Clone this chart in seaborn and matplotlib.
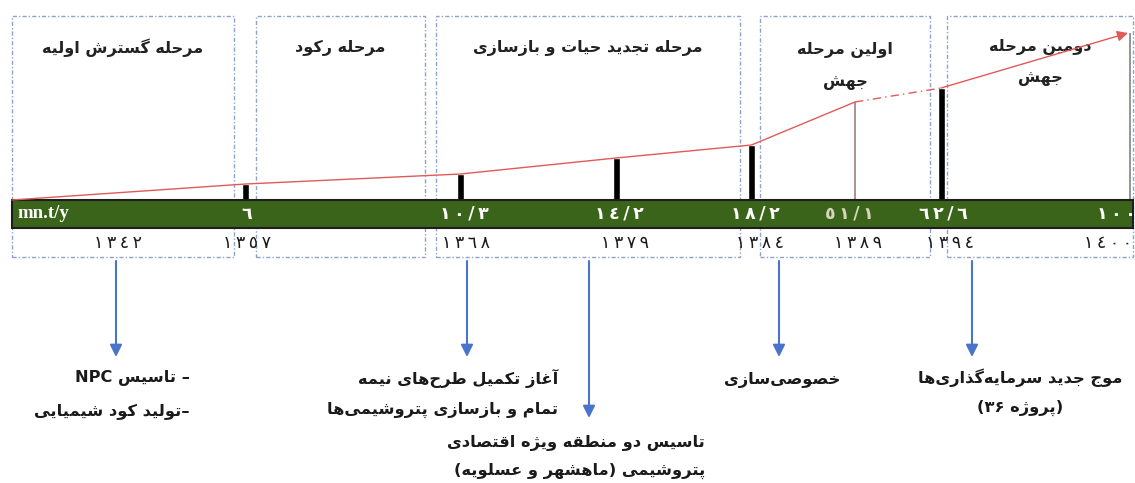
import re
import matplotlib
matplotlib.use('Agg')
import matplotlib.pyplot as plt
from matplotlib.patches import Rectangle
import seaborn as sns

# timeline data (years in Persian calendar, capacity in mn.t/y)
years = ['١٣٤٢', '١٣٥٧', '١٣٦٨', '١٣٧٩', '١٣٨٤', '١٣٨٩', '١٣٩٤', '١٤٠٠']
capacity = [None, 6, 10.3, 14.2, 18.2, 51.1, 62.6, 100]
# drawn height of each mark above the band (schematic, not to scale)
level = [0, 16, 26, 42, 55, 98, 112, 167]
mark_kind = ['none', 'bar', 'bar', 'bar', 'bar', 'thin', 'bar', 'thin']
unit = 'mn.t/y'

stages = [['مرحله گسترش اولیه'], ['مرحله رکود'], ['مرحله تجدید حیات و بازسازی'],
          ['اولین مرحله', 'جهش'], ['دومین مرحله', 'جهش']]
events = [['– تاسیس NPC', '–تولید کود شیمیایی'],
          ['آغاز تکمیل طرح\u200cهای نیمه', 'تمام و بازسازی پتروشیمی\u200cها'],
          ['تاسیس دو منطقه ویژه اقتصادی', 'پتروشیمی (ماهشهر و عسلویه)'],
          ['خصوصی\u200cسازی'],
          ['موج جدید سرمایه\u200cگذاری\u200cها', '(۳۶ پروژه)']]
event_rtl = [[True, True], [True, True], [True, True], [True], [True, False]]

# layout (pixel-like units, band top at y=0)
mark_x = [12, 245.5, 460.5, 616, 751.5, 855, 941, 1130]
value_x = [None, 247, 464, 619, 755, 849, 943, 1116]
year_x = [118, 247, 466, 625, 760, 858, 950, 1108]
box_left = [12, 256, 436, 760, 947]
box_right = [234, 425, 740, 930, 1133]
stage_y = [152, 152, 152, 150, 153]
arrow_x = [116, 467, 589, 779, 972]
arrow_tip = [-157, -157, -218, -157, -157]
event_x = [190, 558, 705, 840, 1020]
event_y = [-178, -178, -243, -180, -178]
event_ha = ['right', 'right', 'right', 'right', 'center']
event_gap = [34, 32, 28, 30, 30]

RED = '#e05a5a'
GREEN = '#3a6419'
BLUE = '#4a74c9'
BOX = '#8ea3cc'

# --- minimal Persian shaping + right-to-left ordering for matplotlib ---
FORMS = {
    'ا': (0xFE8D, 2), 'آ': (0xFE81, 2), 'ب': (0xFE8F, 4), 'پ': (0xFB56, 4),
    'ت': (0xFE95, 4), 'ث': (0xFE99, 4), 'ج': (0xFE9D, 4), 'چ': (0xFB7A, 4),
    'ح': (0xFEA1, 4), 'خ': (0xFEA5, 4), 'د': (0xFEA9, 2), 'ذ': (0xFEAB, 2),
    'ر': (0xFEAD, 2), 'ز': (0xFEAF, 2), 'ژ': (0xFB8A, 2), 'س': (0xFEB1, 4),
    'ش': (0xFEB5, 4), 'ص': (0xFEB9, 4), 'ض': (0xFEBD, 4), 'ط': (0xFEC1, 4),
    'ظ': (0xFEC5, 4), 'ع': (0xFEC9, 4), 'غ': (0xFECD, 4), 'ف': (0xFED1, 4),
    'ق': (0xFED5, 4), 'ک': (0xFB8E, 4), 'ك': (0xFED9, 4), 'گ': (0xFB92, 4),
    'ل': (0xFEDD, 4), 'م': (0xFEE1, 4), 'ن': (0xFEE5, 4), 'ه': (0xFEE9, 4),
    'و': (0xFEED, 2), 'ی': (0xFBFC, 4), 'ي': (0xFEF1, 4),
}
DIGITS = '0-9\u0660-\u0669\u06F0-\u06F9'
LTR = '[A-Za-z' + DIGITS + './]'
NOT_LTR = '[^A-Za-z' + DIGITS + './]'
LETTERS = '[\u0600-\u065F\u066A-\u06EF\u06FA-\u06FF\uFB50-\uFEFF]+'


def shape(s):
    out = []
    for i, ch in enumerate(s):
        if ch not in FORMS:
            out.append(ch)
            continue
        base, kind = FORMS[ch]
        prev = s[i - 1] if i > 0 else ''
        nxt = s[i + 1] if i + 1 < len(s) else ''
        jp = prev in FORMS and FORMS[prev][1] == 4
        jn = kind == 4 and nxt in FORMS
        off = 3 if (jp and jn) else 1 if jp else 2 if jn else 0
        out.append(chr(base + off))
    return ''.join(c for c in out if c != '\u200c')


def fa(s, rtl=True):
    s = shape(s)
    if not rtl:
        # left-to-right paragraph: only the Persian words are reversed
        return re.sub(LETTERS, lambda m: m.group(0)[::-1], s)
    runs = re.findall(LTR + '+|' + NOT_LTR + '+', s)
    out = []
    for r in reversed(runs):
        if re.match(LTR, r):
            out.append(r)
        else:
            out.append(r[::-1].translate(str.maketrans('()', ')(')))
    return ''.join(out)


def spaced(s):
    return '\u2009'.join(s)


def fa_num(v):
    return str(v).replace('.', '/').translate(str.maketrans('0123456789', '٠١٢٣٤٥٦٧٨٩'))


sns.set_theme(style='white')
plt.rcParams['font.family'] = ['DejaVu Sans']

fig = plt.figure(figsize=(11.35, 4.83), dpi=100)
ax = fig.add_axes([0, 0, 1, 1])
ax.set_xlim(0, 1135)
ax.set_ylim(-283, 200)
ax.axis('off')

# stage boxes
for l, r, lines, sy in zip(box_left, box_right, stages, stage_y):
    ax.add_patch(Rectangle((l, -57), r - l, 241, fill=False, ec=BOX, lw=1,
                           ls=(0, (3, 1.5, 1, 1.5))))
    for k, t in enumerate(lines):
        ax.text((l + r) / 2, sy - 32 * k, fa(t), ha='center', va='center',
                fontsize=11.5, fontweight='bold', color='#222222')

# green band
ax.add_patch(Rectangle((12, -28), 1121, 28, fc=GREEN, ec='#1e1e1e', lw=1.5, zorder=3))
ax.text(17, -13, unit, ha='left', va='center', color='white', fontsize=13.5,
        fontweight='bold', family='Liberation Serif', zorder=4)

# capacity bars and growth line
bx = [x for x, k in zip(mark_x, mark_kind) if k == 'bar']
bh = [h for h, k in zip(level, mark_kind) if k == 'bar']
ax.bar(bx, bh, width=7, bottom=0, color='black', zorder=2)
for x, h, k in zip(mark_x, level, mark_kind):
    if k == 'thin':
        ax.vlines(x, 0, h, color='#a88888' if h < 150 else '#8c8c8c', lw=1.3, zorder=2)

sns.lineplot(x=mark_x[:6], y=level[:6], color=RED, lw=1, sort=False, ax=ax, zorder=3)
sns.lineplot(x=mark_x[5:7], y=level[5:7], color=RED, lw=1, ls=(0, (6, 3, 1, 3)),
             sort=False, ax=ax, zorder=3)
ax.annotate('', xy=(mark_x[7] - 2, level[7]), xytext=(mark_x[6], level[6]),
            arrowprops=dict(arrowstyle='-|>', color=RED, lw=1, mutation_scale=16,
                            shrinkA=0, shrinkB=0), zorder=3)

for x, v in zip(value_x, capacity):
    if v is None:
        continue
    ax.text(x, -14, spaced(fa_num(v)), ha='center', va='center', fontsize=12.5,
            fontweight='bold', color='#d8d4bc' if v == 51.1 else 'white', zorder=4)

for x, y in zip(year_x, years):
    ax.text(x, -43, spaced(y), ha='center', va='center', fontsize=12.5, color='#1a1a1a')

# events below the timeline
for x, tip, tx, ty, ha, gap, lines, dirs in zip(arrow_x, arrow_tip, event_x, event_y,
                                                event_ha, event_gap, events, event_rtl):
    ax.annotate('', xy=(x, tip), xytext=(x, -61),
                arrowprops=dict(arrowstyle='-|>', color=BLUE, lw=1.5,
                                mutation_scale=18, shrinkA=0, shrinkB=0))
    for k, (t, d) in enumerate(zip(lines, dirs)):
        ax.text(tx, ty - gap * k, fa(t, d), ha=ha, va='center', fontsize=11.7,
                fontweight='bold', color='#1a1a1a')

fig.savefig('out.png', dpi=100)
